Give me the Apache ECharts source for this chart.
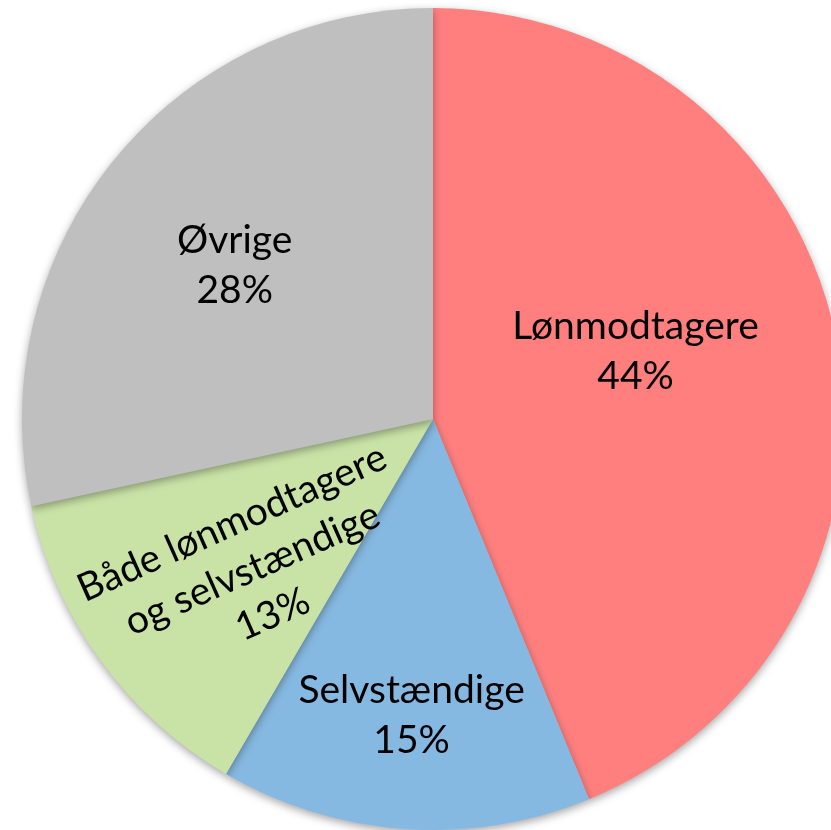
<!DOCTYPE html>
<html>
<head>
<meta charset="utf-8">
<script src="https://cdn.jsdelivr.net/npm/echarts@6/dist/echarts.min.js"></script>
<style>
  html, body { margin: 0; padding: 0; background: #fff; }
  #chart { width: 831px; height: 830px; }
</style>
</head>
<body>
<div id="chart"></div>
<script>
// kategorier og andele (%)
const categories = ['Lønmodtagere', 'Selvstændige', 'Både lønmodtagere\nog selvstændige', 'Øvrige'];
const shares = [43.8, 14.6, 13.2, 28.4];
const colors = ['#ff7f7f', '#86b9e1', '#c9e3a7', '#bfbfbf'];

// justering af etiketter i forhold til standardplacering
const labelShift = [
  { dx: -2, dy: -27, rotate: 0 },
  { dx: -7, dy: 88, rotate: 0 },
  { dx: -22, dy: 20, rotate: 24 },
  { dx: -36, dy: -23, rotate: 0 }
];

const myChart = echarts.init(document.getElementById('chart'));

const option = {
  animation: false,
  series: [
    {
      type: 'pie',
      center: [433, 419],
      radius: 411,
      startAngle: 90,
      clockwise: true,
      avoidLabelOverlap: false,
      data: categories.map((name, i) => ({
        name: name,
        value: shares[i],
        itemStyle: { color: colors[i] }
      })),
      itemStyle: {
        shadowBlur: 8,
        shadowColor: 'rgba(0,0,0,0.35)',
        shadowOffsetY: 3
      },
      label: {
        show: true,
        position: 'inside',
        color: '#000',
        fontFamily: 'Lato',
        fontSize: 39,
        lineHeight: 50,
        align: 'center',
        formatter: (p) => p.name + '\n' + Math.round(p.value) + '%'
      },
      labelLine: { show: false },
      labelLayout: (params) => labelShift[params.dataIndex],
      emphasis: { disabled: true }
    }
  ]
};

option && myChart.setOption(option);
</script>
</body>
</html>
